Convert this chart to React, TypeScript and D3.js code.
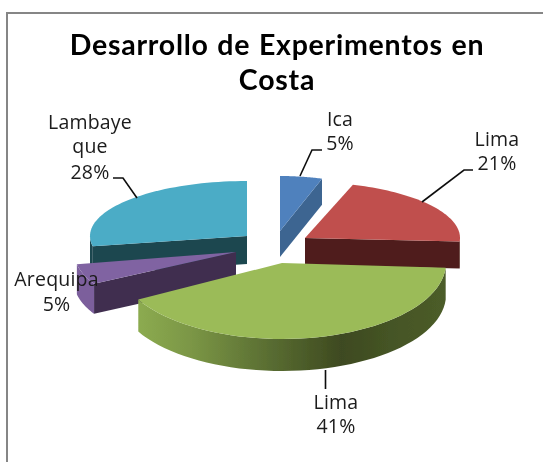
import React from "react";
import * as d3 from "d3";

// Data as printed on the chart
const categories = ["Ica", "Lima", "Lima", "Arequipa", "Lambayeque"];
const percents = [5, 21, 41, 5, 28];

// Colours per slice: top face, cut-edge wall, rim wall
const topColors = ["#4f81bd", "#c0504d", "#9bbb59", "#8064a2", "#4bacc6"];
const edgeColors = ["#3d6591", "#4f1f1e", "#3f4a20", "#3f2f4f", "#1f4650"];
const rimColors = ["#3d6591", "#4f1f1e", "#3f4a20", "#7b5e9c", "#1f4650"];

// Layout per slice (the exploded 3D projection): apex, radii, thickness
const apexX = [280, 305, 282, 236, 247];
const apexY = [231, 238, 263, 252, 236];
const radiusX = [136, 155, 164, 162, 157];
const radiusY = [55, 56, 76, 66, 55];
const depths = [26, 27, 32, 30, 28];

// Which cut edge of each slice is visible: "start", "end" or none
const visibleEdge = ["end", "end", "", "start", "start"];
const drawOrder = [4, 0, 1, 3, 2];

const titleLines = ["Desarrollo de Experimentos en", "Costa"];
const titleYs = [55, 90];
const labels = [
  { lines: ["Ica", "5%"], x: 340, y: [126, 150] },
  { lines: ["Lima", "21%"], x: 497, y: [146, 170] },
  { lines: ["Lima", "41%"], x: 336, y: [409, 433] },
  { lines: ["Arequipa", "5%"], x: 56.5, y: [286, 311] },
  { lines: ["Lambaye", "que", "28%"], x: 90, y: [129, 153, 179] },
];
const leaders: [number, number][][] = [
  [[300, 176], [312, 150], [322, 150]],
  [[422, 202], [464, 170], [473, 170]],
  [[325.5, 370], [325.5, 389]],
  [[137, 198], [123, 178], [113, 178]],
];

const pieGen = d3.pie<number>().sort(null).value((d) => d);
const arcs = pieGen(percents);
const lineGen = d3.line<[number, number]>();

function pt(i: number, a: number, dy = 0): [number, number] {
  return [apexX[i] + radiusX[i] * Math.sin(a), apexY[i] - radiusY[i] * Math.cos(a) + dy];
}
function arcPts(i: number, a0: number, a1: number, dy = 0): [number, number][] {
  const n = 48;
  return d3.range(n + 1).map((k) => pt(i, a0 + ((a1 - a0) * k) / n, dy));
}

export default function App() {
  const greenIdx = 2;
  const g0 = pt(greenIdx, arcs[greenIdx].startAngle);
  const g1 = pt(greenIdx, arcs[greenIdx].endAngle);
  return (
    <svg
      width={543}
      height={462}
      style={{ position: "fixed", left: 0, top: 0, display: "block", background: "#fff" }}
    >
      <defs>
        <filter id="soft" x="-5%" y="-5%" width="110%" height="110%">
          <feGaussianBlur stdDeviation="0.45" />
        </filter>
        <linearGradient id="greenRim" gradientUnits="userSpaceOnUse" x1={g1[0]} x2={g0[0]} y1={0} y2={0}>
          <stop offset="0" stopColor="#8cab50" />
          <stop offset="0.18" stopColor="#7a9545" />
          <stop offset="0.42" stopColor="#5a6e32" />
          <stop offset="0.66" stopColor="#3e4a20" />
          <stop offset="0.85" stopColor="#465626" />
          <stop offset="1" stopColor="#4c5c29" />
        </linearGradient>
      </defs>
      <g filter="url(#soft)">
        <path d="M7,462V13H543" fill="none" stroke="#868686" strokeWidth={2} />
        {drawOrder.map((i) => {
          const d = arcs[i];
          const apex: [number, number] = [apexX[i], apexY[i]];
          const apexLow: [number, number] = [apexX[i], apexY[i] + depths[i]];
          const edgeAngle = visibleEdge[i] === "end" ? d.endAngle : d.startAngle;
          const top = [apex, ...arcPts(i, d.startAngle, d.endAngle)];
          const frontFrom = Math.max(d.startAngle, Math.PI / 2);
          const frontTo = Math.min(d.endAngle, 1.5 * Math.PI);
          const hasRim = frontTo > frontFrom;
          const frontLower = arcPts(i, frontFrom, frontTo, depths[i]);
          const frontUpper = arcPts(i, frontFrom, frontTo).reverse();
          return (
            <g key={i} data-name={categories[i]}>
              {visibleEdge[i] && (
                <path
                  d={lineGen([apex, pt(i, edgeAngle), pt(i, edgeAngle, depths[i]), apexLow])! + "Z"}
                  fill={edgeColors[i]}
                />
              )}
              {hasRim && (
                <path
                  d={lineGen([...frontLower, ...frontUpper])! + "Z"}
                  fill={i === greenIdx ? "url(#greenRim)" : rimColors[i]}
                />
              )}
              <path d={lineGen(top)! + "Z"} fill={topColors[i]} />
            </g>
          );
        })}
        {leaders.map((l, i) => (
          <path key={i} d={lineGen(l)!} fill="none" stroke="#111" strokeWidth={1.6} />
        ))}
        <g
          textAnchor="middle"
          fontFamily="Lato, sans-serif"
          fontWeight={700}
          fontSize={28.5}
          fill="#000"
          style={{ letterSpacing: "0.75px", wordSpacing: "1px" }}
        >
          {titleLines.map((t, i) => (
            <text key={i} x={277} y={titleYs[i]}>{t}</text>
          ))}
        </g>
        <g
          textAnchor="middle"
          fontFamily="'Open Sans', sans-serif"
          fontSize={19.5}
          fill="#1a1a1a"
          style={{ letterSpacing: "0.2px" }}
        >
          {labels.map((l, i) =>
            l.lines.map((t, j) => (
              <text key={i + "-" + j} x={l.x} y={l.y[j]}>{t}</text>
            ))
          )}
        </g>
      </g>
    </svg>
  );
}
